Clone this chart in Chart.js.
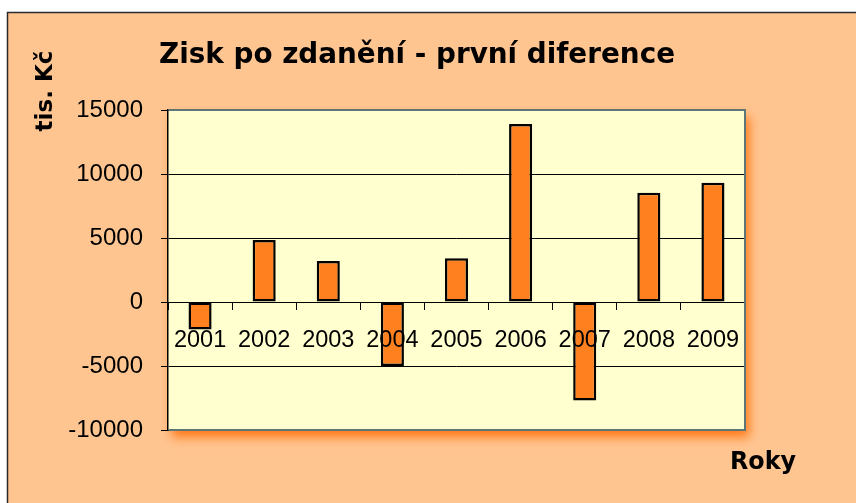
<!DOCTYPE html>
<html>
<head>
<meta charset="utf-8">
<script src="https://cdn.jsdelivr.net/npm/chart.js@4.4.1/dist/chart.umd.min.js"></script>
<style>
html,body{margin:0;padding:0;background:#fff;}
canvas{display:block;}
</style>
</head>
<body>
<canvas id="c" width="856" height="503"></canvas>
<script>
const categories = ['2001','2002','2003','2004','2005','2006','2007','2008','2009'];
const values = [-2150, 4850, 3200, -5000, 3420, 13900, -7700, 8540, 9320];
const yMin = -10000;
const yMax = 15000;
const yStep = 5000;
const titleText = 'Zisk po zdanění - první diference';
const yTitleText = 'tis. Kč';
const xTitleText = 'Roky';

const decor = {
  id: 'decor',
  beforeDraw(chart) {
    const ctx = chart.ctx, a = chart.chartArea;
    ctx.save();
    ctx.fillStyle = '#ffffff';
    ctx.fillRect(0, 0, chart.width, chart.height);
    ctx.fillStyle = '#FFC591';
    ctx.fillRect(7, 12, chart.width, chart.height);
    ctx.strokeStyle = '#2a2a2a';
    ctx.lineWidth = 1.5;
    ctx.beginPath();
    ctx.moveTo(7.5, chart.height);
    ctx.lineTo(7.5, 12.5);
    ctx.lineTo(chart.width, 12.5);
    ctx.stroke();
    ctx.shadowColor = 'rgba(255,115,15,0.95)';
    ctx.shadowBlur = 10;
    ctx.shadowOffsetX = 4;
    ctx.shadowOffsetY = 7;
    ctx.fillStyle = '#FFFFD0';
    ctx.fillRect(a.left, a.top, a.right - a.left, a.bottom - a.top);
    ctx.restore();
  },
  afterDraw(chart) {
    const ctx = chart.ctx, a = chart.chartArea;
    ctx.save();
    ctx.strokeStyle = '#5E7676';
    ctx.lineWidth = 2;
    ctx.beginPath();
    ctx.moveTo(a.left + 1, a.top);
    ctx.lineTo(a.right, a.top);
    ctx.lineTo(a.right, a.bottom);
    ctx.lineTo(a.left + 1, a.bottom);
    ctx.stroke();
    ctx.fillStyle = '#000';
    ctx.textAlign = 'left';
    ctx.textBaseline = 'alphabetic';
    ctx.font = 'bold 28px "DejaVu Sans"';
    ctx.fillText(titleText, 159, 63, 516);
    ctx.font = 'bold 24px "DejaVu Sans"';
    ctx.fillText(xTitleText, 730, 469, 66);
    ctx.translate(52, 91);
    ctx.rotate(-Math.PI / 2);
    ctx.textAlign = 'center';
    ctx.font = 'bold 23px "DejaVu Sans"';
    ctx.fillText(yTitleText, 0, 0, 82);
    ctx.restore();
  }
};

new Chart(document.getElementById('c'), {
  type: 'bar',
  data: {
    labels: categories,
    datasets: [{
      data: values,
      backgroundColor: '#FF801F',
      borderColor: '#000000',
      borderWidth: 2.5,
      borderSkipped: false,
      categoryPercentage: 1,
      barPercentage: 0.36
    }]
  },
  options: {
    responsive: false,
    devicePixelRatio: 1,
    animation: false,
    layout: { padding: { left: 0, top: 110, right: 111, bottom: 73 } },
    plugins: { legend: { display: false }, tooltip: { enabled: false }, title: { display: false } },
    scales: {
      x: {
        type: 'category',
        position: { y: 0 },
        offset: true,
        grid: { display: true, drawOnChartArea: false, drawTicks: true, tickLength: 7, offset: true, color: '#000', lineWidth: 1, z: 1 },
        border: { display: true, color: '#000', width: 1, z: 1 },
        ticks: { z: 1, color: '#000', font: { family: '"Liberation Sans", Arial', size: 23.5 }, padding: 17, maxRotation: 0, autoSkip: false },
        afterFit(s) { s.height = 0; }
      },
      y: {
        min: yMin,
        max: yMax,
        grid: { color: '#000', lineWidth: 1, tickLength: 7, drawTicks: true },
        border: { display: true, color: '#000', width: 1.5 },
        ticks: { stepSize: yStep, color: '#000', font: { family: '"Liberation Sans", Arial', size: 24 }, padding: 18,
                 callback: (v) => String(v) },
        afterFit(s) { s.width = 168; }
      }
    }
  },
  plugins: [decor]
});
</script>
</body>
</html>
